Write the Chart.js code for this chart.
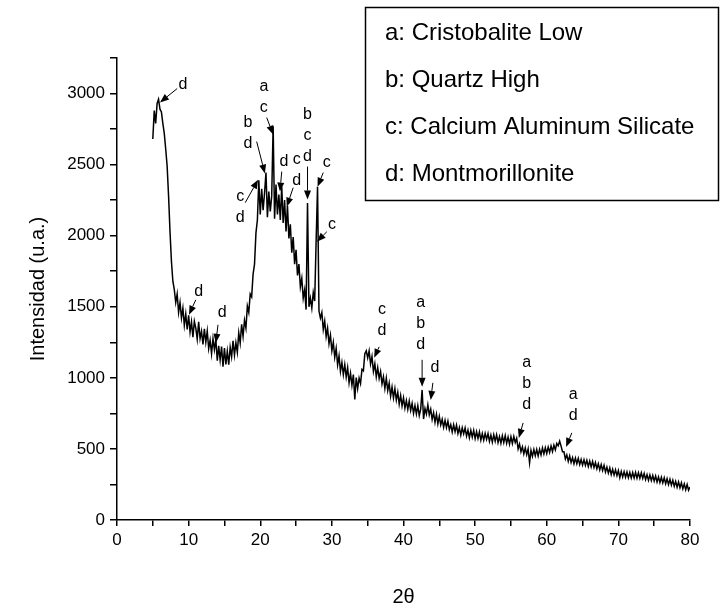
<!DOCTYPE html>
<html>
<head>
<meta charset="utf-8">
<script src="https://cdn.jsdelivr.net/npm/chart.js@4"></script>
<style>
  html, body { margin: 0; padding: 0; background: #fff; }
  canvas { display: block; }
</style>
</head>
<body>
<canvas id="xrd" width="721" height="615"></canvas>
<script>
const twoTheta = [
  5, 5.2, 5.4, 5.6, 5.8, 6, 6.2, 6.4, 6.6, 6.8, 7, 7.2, 7.4, 7.6, 7.8, 8, 8.2, 8.4, 8.6, 8.8, 9, 9.2, 9.4, 9.6, 9.8,
  10, 10.2, 10.4, 10.6, 10.8, 11, 11.2, 11.4, 11.6, 11.8, 12, 12.2, 12.4, 12.6, 12.8, 13, 13.2, 13.4, 13.6, 13.8, 14, 14.2, 14.4, 14.6, 14.8,
  15, 15.2, 15.4, 15.6, 15.8, 16, 16.2, 16.4, 16.6, 16.8, 17, 17.2, 17.4, 17.6, 17.8, 18, 18.2, 18.4, 18.6, 18.8, 19, 19.2, 19.4, 19.6, 19.8,
  20, 20.2, 20.4, 20.6, 20.8, 21, 21.2, 21.4, 21.6, 21.8, 22, 22.2, 22.4, 22.6, 22.8, 23, 23.2, 23.4, 23.6, 23.8, 24, 24.2, 24.4, 24.6, 24.8,
  25, 25.2, 25.4, 25.6, 25.8, 26, 26.2, 26.4, 26.6, 26.8, 27, 27.2, 27.4, 27.6, 27.8, 28, 28.2, 28.4, 28.6, 28.8, 29, 29.2, 29.4, 29.6, 29.8,
  30, 30.2, 30.4, 30.6, 30.8, 31, 31.2, 31.4, 31.6, 31.8, 32, 32.2, 32.4, 32.6, 32.8, 33, 33.2, 33.4, 33.6, 33.8, 34, 34.2, 34.4, 34.6, 34.8,
  35, 35.2, 35.4, 35.6, 35.8, 36, 36.2, 36.4, 36.6, 36.8, 37, 37.2, 37.4, 37.6, 37.8, 38, 38.2, 38.4, 38.6, 38.8, 39, 39.2, 39.4, 39.6, 39.8,
  40, 40.2, 40.4, 40.6, 40.8, 41, 41.2, 41.4, 41.6, 41.8, 42, 42.2, 42.4, 42.6, 42.8, 43, 43.2, 43.4, 43.6, 43.8, 44, 44.2, 44.4, 44.6, 44.8,
  45, 45.2, 45.4, 45.6, 45.8, 46, 46.2, 46.4, 46.6, 46.8, 47, 47.2, 47.4, 47.6, 47.8, 48, 48.2, 48.4, 48.6, 48.8, 49, 49.2, 49.4, 49.6, 49.8,
  50, 50.2, 50.4, 50.6, 50.8, 51, 51.2, 51.4, 51.6, 51.8, 52, 52.2, 52.4, 52.6, 52.8, 53, 53.2, 53.4, 53.6, 53.8, 54, 54.2, 54.4, 54.6, 54.8,
  55, 55.2, 55.4, 55.6, 55.8, 56, 56.2, 56.4, 56.6, 56.8, 57, 57.2, 57.4, 57.6, 57.8, 58, 58.2, 58.4, 58.6, 58.8, 59, 59.2, 59.4, 59.6, 59.8,
  60, 60.2, 60.4, 60.6, 60.8, 61, 61.2, 61.4, 61.6, 61.8, 62, 62.2, 62.4, 62.6, 62.8, 63, 63.2, 63.4, 63.6, 63.8, 64, 64.2, 64.4, 64.6, 64.8,
  65, 65.2, 65.4, 65.6, 65.8, 66, 66.2, 66.4, 66.6, 66.8, 67, 67.2, 67.4, 67.6, 67.8, 68, 68.2, 68.4, 68.6, 68.8, 69, 69.2, 69.4, 69.6, 69.8,
  70, 70.2, 70.4, 70.6, 70.8, 71, 71.2, 71.4, 71.6, 71.8, 72, 72.2, 72.4, 72.6, 72.8, 73, 73.2, 73.4, 73.6, 73.8, 74, 74.2, 74.4, 74.6, 74.8,
  75, 75.2, 75.4, 75.6, 75.8, 76, 76.2, 76.4, 76.6, 76.8, 77, 77.2, 77.4, 77.6, 77.8, 78, 78.2, 78.4, 78.6, 78.8, 79, 79.2, 79.4, 79.6, 79.8,
  80
];

const intensidad = [
  2680, 2880, 2790, 2930, 2960, 2890, 2870, 2790, 2720, 2610, 2490, 2280, 2030, 1820, 1680, 1620, 1530, 1590, 1460, 1530, 1420, 1490, 1370, 1450, 1340,
  1440, 1322, 1394, 1286, 1398, 1350, 1272, 1394, 1276, 1328, 1235, 1345, 1250, 1330, 1205, 1265, 1170, 1275, 1198, 1271, 1120, 1225, 1125, 1220, 1078,
  1210, 1095, 1187, 1093, 1215, 1148, 1260, 1160, 1247, 1180, 1317, 1245, 1377, 1292, 1405, 1350, 1505, 1460, 1590, 1570, 1730, 1800, 2020, 2110, 2390,
  2150, 2330, 2180, 2300, 2445, 2130, 2310, 2170, 2280, 2770, 2120, 2360, 2150, 2290, 2110, 2345, 2090, 2250, 2030, 2210, 1980, 2080, 1880, 1990, 1800,
  1900, 1720, 1800, 1640, 1700, 1560, 1620, 1480, 2230, 1500, 1560, 1490, 1600, 1540, 1960, 2345, 1470, 1420, 1460, 1340, 1400, 1290, 1350, 1240, 1300,
  1190, 1250, 1145, 1208, 1091, 1155, 1045, 1108, 1022, 1093, 1005, 1072, 965, 1033, 948, 1023, 848, 1002, 925, 998, 960, 1060, 1050, 1170, 1190,
  1140, 1190, 1098, 1150, 1045, 1098, 1007, 1071, 995, 1045, 957, 1008, 925, 997, 910, 963, 871, 935, 859, 924, 844, 899, 815, 876, 803,
  860, 787, 840, 778, 837, 771, 820, 750, 805, 745, 805, 735, 780, 915, 710, 785, 745, 810, 740, 780, 708, 755, 687, 744, 676,
  730, 669, 708, 652, 701, 650, 695, 635, 670, 620, 670, 621, 667, 608, 650, 597, 649, 606, 648, 590, 632, 579, 631, 583, 630,
  573, 621, 574, 620, 562, 608, 561, 609, 567, 608, 553, 597, 548, 600, 554, 600, 545, 587, 540, 592, 544, 593, 539, 583, 534,
  585, 538, 587, 545, 575, 500, 535, 480, 515, 465, 507, 460, 501, 402, 490, 448, 496, 452, 496, 451, 498, 458, 507, 464, 508,
  468, 513, 476, 521, 482, 526, 494, 538, 522, 555, 520, 480, 480, 430, 458, 412, 450, 404, 439, 396, 436, 396, 434, 390, 426,
  386, 424, 384, 420, 376, 414, 373, 412, 369, 404, 361, 396, 352, 390, 348, 384, 338, 372, 330, 366, 320, 357, 316, 353, 312,
  348, 298, 342, 302, 340, 301, 338, 297, 334, 295, 334, 295, 335, 294, 333, 294, 332, 292, 327, 284, 319, 279, 317, 277, 313,
  273, 309, 267, 303, 263, 301, 261, 297, 255, 290, 249, 286, 245, 280, 237, 272, 231, 268, 227, 262, 219, 254, 213, 250, 210,
  232
];

const fases = [
  'a: Cristobalite Low',
  'b: Quartz High',
  'c: Calcium Aluminum Silicate',
  'd: Montmorillonite'
];

// etiquetas de picos: texto, posición del texto y flecha (en unidades 2θ / intensidad)
const picos = [
  { txt: ['d'],           at: [9.2, 3063],  from: [8.4, 3035],  to: [6.0, 2937] },
  { txt: ['d'],           at: [11.4, 1606], from: [11.0, 1549], to: [10.05, 1444] },
  { txt: ['d'],           at: [14.7, 1458], from: [14.1, 1373], to: [13.8, 1246] },
  { txt: ['c', 'd'],      at: [17.2, 2275], from: [17.9, 2232], to: [19.7, 2394] },
  { txt: ['b', 'd'],      at: [18.3, 2796], from: [19.5, 2662], to: [20.65, 2437] },
  { txt: ['a', 'c'],      at: [20.5, 3049], from: [20.9, 2831], to: [21.8, 2711] },
  { txt: ['d'],           at: [23.3, 2521], from: [23.0, 2451], to: [22.75, 2310] },
  { txt: ['c', 'd'],      at: [25.1, 2535], from: [24.6, 2338], to: [23.7, 2204] },
  { txt: ['b', 'c', 'd'], at: [26.6, 2852], from: [26.6, 2486], to: [26.6, 2254] },
  { txt: ['c'],           at: [29.3, 2514], from: [28.8, 2444], to: [28.0, 2345] },
  { txt: ['c'],           at: [30.0, 2077], from: [29.3, 2028], to: [27.9, 1958] },
  { txt: ['c', 'd'],      at: [37.0, 1479], from: [36.6, 1218], to: [35.9, 1141] },
  { txt: ['a', 'b', 'd'], at: [42.4, 1528], from: [42.6, 1127], to: [42.6, 937] },
  { txt: ['d'],           at: [44.4, 1070], from: [44.1, 965],  to: [43.8, 845] },
  { txt: ['a', 'b', 'd'], at: [57.2, 1106], from: [56.7, 683],  to: [56.1, 577] },
  { txt: ['a', 'd'],      at: [63.7, 880],  from: [63.5, 613],  to: [62.7, 514] }
];

const FONT = '"Liberation Sans", Arial, sans-serif';
Chart.defaults.color = '#000';
Chart.defaults.font.family = FONT;

// ─── flechas + letras sobre los picos ───
const picosPlugin = {
  id: 'picos',
  afterDatasetsDraw(chart) {
    const { ctx, scales: { x, y } } = chart;
    ctx.save();
    ctx.fillStyle = '#000';
    ctx.strokeStyle = '#000';
    ctx.lineWidth = 1;
    ctx.font = '16px ' + FONT;
    ctx.textAlign = 'center';
    ctx.textBaseline = 'middle';
    picos.forEach(p => {
      const tx = x.getPixelForValue(p.at[0]);
      const ty = y.getPixelForValue(p.at[1]);
      p.txt.forEach((t, i) => ctx.fillText(t, tx, ty + i * 21));

      const x1 = x.getPixelForValue(p.from[0]), y1 = y.getPixelForValue(p.from[1]);
      const x2 = x.getPixelForValue(p.to[0]),   y2 = y.getPixelForValue(p.to[1]);
      const ang = Math.atan2(y2 - y1, x2 - x1);
      const hl = 9, hw = 3.5;
      const bx = x2 - hl * Math.cos(ang), by = y2 - hl * Math.sin(ang);
      ctx.beginPath();
      ctx.moveTo(x1, y1);
      ctx.lineTo(bx, by);
      ctx.stroke();
      ctx.beginPath();
      ctx.moveTo(x2, y2);
      ctx.lineTo(bx + hw * Math.sin(ang), by - hw * Math.cos(ang));
      ctx.lineTo(bx - hw * Math.sin(ang), by + hw * Math.cos(ang));
      ctx.closePath();
      ctx.fill();
    });
    ctx.restore();
  }
};

// ─── recuadro con las fases ───
const fasesPlugin = {
  id: 'fases',
  afterDraw(chart) {
    const { ctx } = chart;
    const bx = 365.5, by = 7.5, bw = 353, bh = 193;
    ctx.save();
    ctx.fillStyle = '#fff';
    ctx.fillRect(bx, by, bw, bh);
    ctx.strokeStyle = '#000';
    ctx.lineWidth = 1.5;
    ctx.strokeRect(bx, by, bw, bh);
    ctx.fillStyle = '#000';
    ctx.font = '24px ' + FONT;
    ctx.textAlign = 'left';
    ctx.textBaseline = 'middle';
    fases.forEach((f, i) => ctx.fillText(f, 385, 33 + i * 47));
    ctx.restore();
  }
};

const puntos = twoTheta.map((t, i) => ({ x: t, y: intensidad[i] }));

new Chart(document.getElementById('xrd'), {
  type: 'line',
  data: {
    datasets: [{
      data: puntos,
      borderColor: '#000',
      borderWidth: 1.5,
      pointRadius: 0,
      fill: false,
      tension: 0
    }]
  },
  options: {
    responsive: false,
    animation: false,
    layout: { padding: { left: 0, right: 31, top: 58, bottom: 0 } },
    plugins: { legend: { display: false }, tooltip: { enabled: false } },
    scales: {
      x: {
        type: 'linear',
        min: 0,
        max: 80,
        ticks: {
          stepSize: 5,
          autoSkip: false,
          maxRotation: 0,
          padding: 4,
          font: { size: 17 },
          callback: v => (v % 10 === 0 ? v : '')
        },
        grid: { drawOnChartArea: false, tickLength: 6, color: '#000', lineWidth: 1.5 },
        border: { color: '#000', width: 1.5 },
        title: { display: true, text: '2θ', font: { size: 20 }, padding: { top: 0, bottom: 6 } },
        afterFit: s => { s.height = 95; }
      },
      y: {
        min: 0,
        max: 3250,
        ticks: {
          stepSize: 250,
          autoSkip: false,
          padding: 5,
          font: { size: 17 },
          callback: v => (v % 500 === 0 ? v : '')
        },
        grid: { drawOnChartArea: false, tickLength: 7, color: '#000', lineWidth: 1.5 },
        border: { color: '#000', width: 1.5 },
        title: { display: true, text: 'Intensidad (u.a.)', font: { size: 20 }, padding: { top: 26, bottom: 0 } },
        afterFit: s => { s.width = 117; }
      }
    }
  },
  plugins: [picosPlugin, fasesPlugin]
});
</script>
</body>
</html>
